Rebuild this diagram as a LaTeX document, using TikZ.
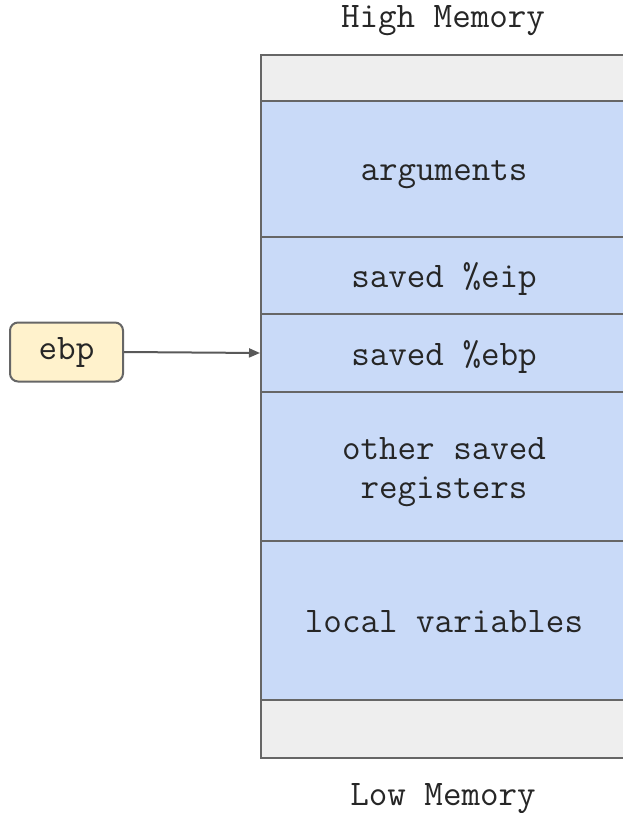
\documentclass[tikz,border=0pt]{standalone}
\usepackage{fontspec}
\usetikzlibrary{arrows.meta}
\definecolor{frameblue}{HTML}{C9DAF8}
\definecolor{framegray}{HTML}{EEEEEE}
\definecolor{regyellow}{HTML}{FFF2CC}
\definecolor{edgegray}{HTML}{666666}
\definecolor{arrowgray}{HTML}{595959}
\tikzset{
  txt/.style={font=\ttfamily\fontsize{36}{39}\selectfont, text=black!85},
  cell/.style={txt, draw=edgegray, line width=2pt, anchor=north west,
    minimum width=366pt, inner sep=0pt, align=center,
    text height=32pt, text depth=8pt},
  slot/.style={cell, fill=frameblue},
  pad/.style={cell, fill=framegray},
  addr/.style={txt, inner sep=0pt, anchor=base},
  regbox/.style={txt, draw=edgegray, line width=2pt, fill=regyellow,
    rounded corners=8pt, minimum width=113pt, minimum height=59pt, inner sep=0pt},
  ptr/.style={draw=arrowgray, line width=2pt, -{Triangle[length=11pt,width=9pt]}}
}
\begin{document}
\begin{tikzpicture}[x=1pt,y=-1pt]
  \useasboundingbox (0,0) rectangle (623,813);
  % stack frame, from high to low addresses
  \node[pad,  minimum height=46pt]  (top)   at (260,54)  {};
  \node[slot, minimum height=136pt] (args)  at (260,100) {arguments};
  \node[slot, minimum height=77pt]  (eip)   at (260,236) {saved \%eip};
  \node[slot, minimum height=78pt]  (sebp)  at (260,313) {saved \%ebp};
  \node[slot, minimum height=149pt, text height=71pt] (other) at (260,391) {other saved\\registers};
  \node[slot, minimum height=159pt] (local) at (260,540) {local variables};
  \node[pad,  minimum height=58pt]  (bot)   at (260,699) {};
  % address labels
  \node[addr] (high) at (443,28)  {High Memory};
  \node[addr] (low)  at (443,805) {Low Memory};
  % frame pointer register
  \node[regbox] (ebp) at (66.5,352) {ebp};
  \draw[ptr] (ebp.east) -- (sebp.west);
\end{tikzpicture}
\end{document}
